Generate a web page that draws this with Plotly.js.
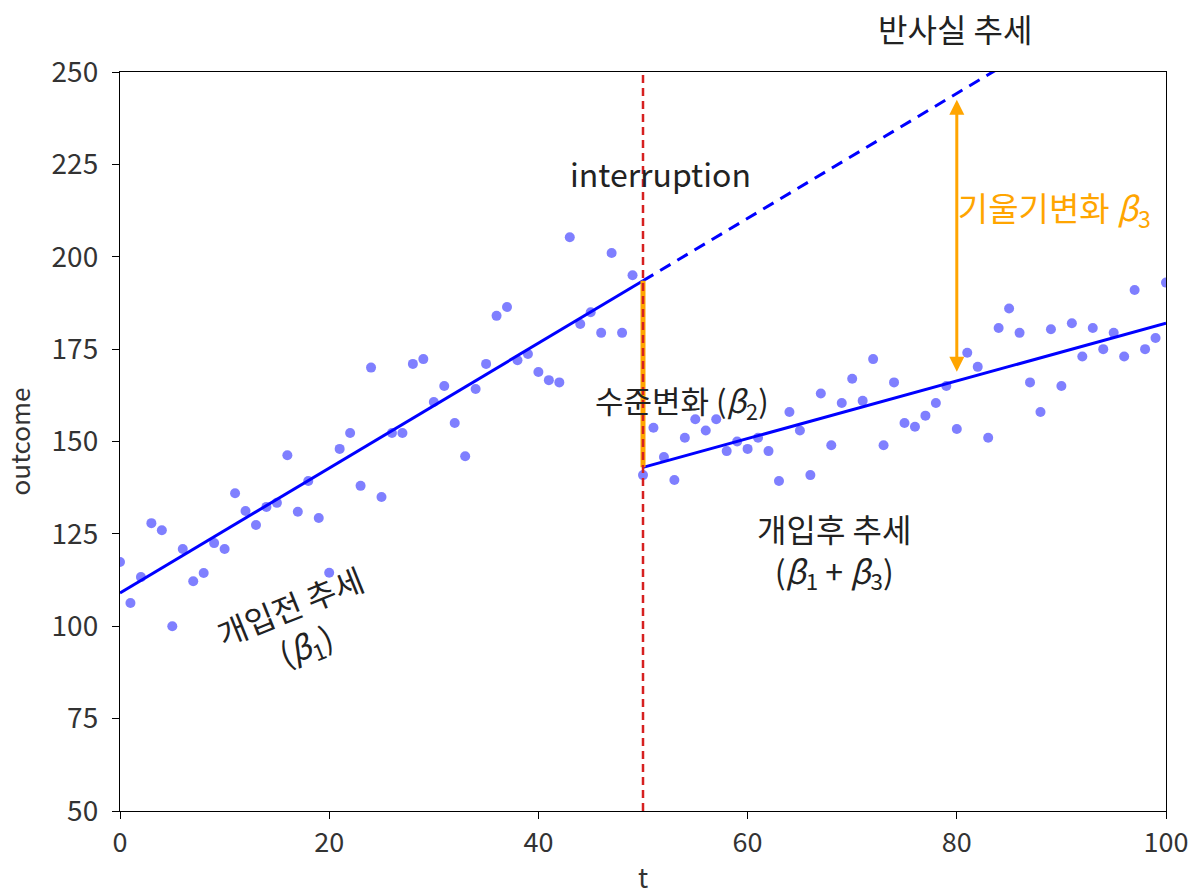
<!DOCTYPE html>
<html><head><meta charset="utf-8">
<script src="https://cdn.plot.ly/plotly-3.0.1.min.js"></script>
<style>body{margin:0;background:#fff}#chart{width:1201px;height:896px}</style>
</head><body><div id="chart"></div>
<script>
// observed outcome, t = 0..100
const tValues = [];
for (let i = 0; i <= 100; i++) tValues.push(i);
const outcome = [
 117.4,106.3,113.3,127.9,126.0,100.0,120.9,112.2,114.4,122.5,
 120.9,136.0,131.2,127.4,132.3,133.4,146.3,131.0,139.3,129.3,
 114.5,148.0,152.3,138.0,170.0,135.0,152.3,152.3,171.0,172.3,
 160.7,165.0,155.0,146.0,164.2,171.0,184.0,186.4,172.0,173.7,
 168.8,166.6,166.0,205.3,181.8,185.0,179.4,201.0,179.4,195.0,
 140.9,153.7,145.8,139.6,151.0,156.0,153.0,156.0,147.4,150.0,
 148.0,151.0,147.4,139.3,158.0,153.0,140.9,163.0,149.0,160.4,
 167.0,161.0,172.3,149.0,166.0,155.0,154.0,157.0,160.4,165.0,
 153.4,174.0,170.2,151.0,180.7,186.0,179.4,166.0,158.0,180.4,
 165.0,182.0,173.0,180.7,175.0,179.4,173.0,191.0,175.0,178.0,193.0
];
// fitted trends
const preT = [0, 50], preY = [109.0, 193.5];
const cfT = [50, 100], cfY = [193.5, 278.0];
const postT = [50, 100], postY = [143.0, 182.0];
const levelT = [50, 50], levelY = [143.0, 193.5];
const interruptT = [50, 50], interruptY = [50, 250];
const slopeArrowT = 80, slopeArrowY = [168.5, 242.5];
const xTicks = [0, 20, 40, 60, 80, 100];
const yTicks = [50, 75, 100, 125, 150, 175, 200, 225, 250];

const FONT = '"Noto Sans CJK KR", "Noto Sans", sans-serif';
const traces = [
  {x: tValues, y: outcome, mode: 'markers', type: 'scatter',
   marker: {color: 'blue', opacity: 0.5, size: 10}, hoverinfo: 'skip'},
  {x: preT, y: preY, mode: 'lines', line: {color: 'blue', width: 3}},
  {x: cfT, y: cfY, mode: 'lines', line: {color: 'blue', width: 3, dash: '12px,8px'}},
  {x: postT, y: postY, mode: 'lines', line: {color: 'blue', width: 3}},
  {x: levelT, y: levelY, mode: 'lines', line: {color: 'orange', width: 5}},
  {x: interruptT, y: interruptY, mode: 'lines', line: {color: '#d62020', width: 2.5, dash: '8px,5px'}},
  {x: [80.1], y: [212], mode: 'text', text: ['기울기변화 <i>β</i><sub>3</sub>'],
   textposition: 'middle right', cliponaxis: true,
   textfont: {family: FONT, size: 33, color: 'orange'}}
];
const txt = (x, y, text, extra) => Object.assign({x, y, xref: 'x', yref: 'y', text, showarrow: false,
  xanchor: 'center', yanchor: 'middle',
  font: {family: FONT, size: 31, color: '#222'}}, extra || {});
const layout = {
  width: 1201, height: 896, showlegend: false,
  margin: {l: 120, r: 35, t: 72, b: 85},
  paper_bgcolor: '#fff', plot_bgcolor: '#fff',
  font: {family: FONT, color: '#333'},
  xaxis: {range: [0, 100], tickvals: xTicks, ticks: 'outside', ticklen: 7, tickcolor: '#000',
    showgrid: false, zeroline: false, showline: true, linecolor: '#000', linewidth: 1.2, mirror: true,
    tickfont: {size: 27, color: '#333', family: FONT}, automargin: false,
    title: {text: 't', font: {size: 27, color: '#333', family: FONT}, standoff: 12}},
  yaxis: {range: [50, 250], tickvals: yTicks, ticks: 'outside', ticklen: 7, tickcolor: '#000',
    showgrid: false, zeroline: false, showline: true, linecolor: '#000', linewidth: 1.2, mirror: true,
    tickfont: {size: 28, color: '#333', family: FONT}, automargin: false, ticklabelstandoff: 8,
    title: {text: 'outcome', font: {size: 26, color: '#333', family: FONT}, standoff: 17}},
  annotations: [
    {x: 0.798, y: 1.0595, xref: 'paper', yref: 'paper', xanchor: 'center', yanchor: 'middle',
     text: '반사실 추세', showarrow: false, font: {family: FONT, size: 32, color: '#222'}},
    txt(51.7, 222.7, 'interruption', {font: {family: FONT, size: 32, color: '#222'}}),
    txt(45.2, 160.7, '수준변화 (<i>β</i><sub>2</sub>)', {xanchor: 'left'}),
    txt(68.3, 120.4, '개입후 추세<br>(<i>β</i><sub>1</sub> + <i>β</i><sub>3</sub>)', {font: {family: FONT, size: 32, color: '#222'}}),
    txt(17.0, 100.0, '개입전 추세<br>(<i>β</i><sub>1</sub>)', {textangle: -22, font: {family: FONT, size: 32, color: '#222'}}),
    {x: slopeArrowT, y: slopeArrowY[1], ax: slopeArrowT, ay: slopeArrowY[0], xref: 'x', yref: 'y',
     axref: 'x', ayref: 'y', text: '', showarrow: true, arrowhead: 2, startarrowhead: 2,
     arrowside: 'end+start', arrowcolor: 'orange', arrowwidth: 3, arrowsize: 1, startarrowsize: 1}
  ]
};
Plotly.newPlot('chart', traces, layout, {staticPlot: true});
</script></body></html>
